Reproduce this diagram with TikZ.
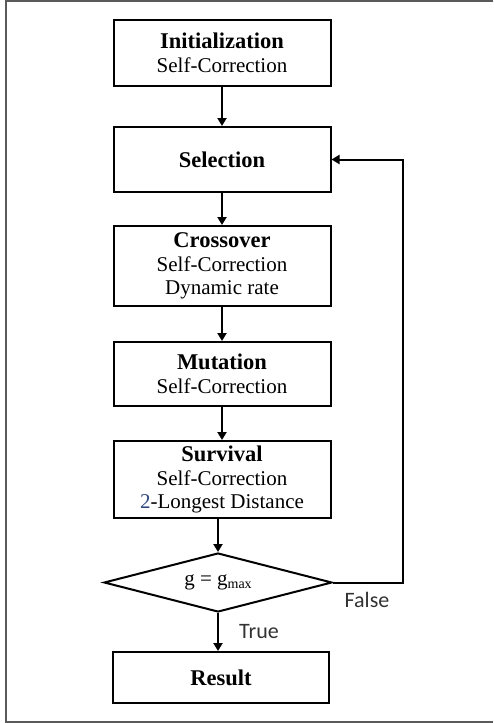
\documentclass[tikz,border=0pt]{standalone}
\usepackage{fontspec}
\setmainfont{Liberation Serif}
\newfontfamily\labelfont{Carlito}
\usetikzlibrary{arrows.meta,shapes.geometric}
\definecolor{numblue}{RGB}{47,72,125}
\definecolor{framegray}{RGB}{90,90,90}
\definecolor{labelgray}{RGB}{50,50,50}
\begin{document}
\begin{tikzpicture}[x=1pt,y=-1pt,
  box/.style={draw=black,line width=2pt,rectangle,minimum width=217pt,inner sep=0pt,align=center,font=\fontsize{21}{23.5}\selectfont},
  dec/.style={draw=black,line width=2pt,diamond,aspect=3.86,minimum width=228pt,minimum height=59pt,inner sep=0pt,font=\fontsize{21}{24}\selectfont},
  arr/.style={line width=2pt,-{Triangle[length=8pt,width=9pt]}},
  lbl/.style={font=\labelfont\fontsize{22}{24}\selectfont,text=labelgray,inner sep=0pt},
  frame/.style={draw=framegray,line width=1.6pt}]
\useasboundingbox (0,0) rectangle (493,723);
% outer frame (left, top, bottom)
\draw[frame] (493,1) -- (6,1) -- (6,722) -- (493,722);

\newcommand{\bt}[1]{{\bfseries\fontsize{22.5}{23.5}\selectfont #1}}

\node[box,minimum height=66pt] (init) at (222,53) {\bt{Initialization}\\Self-Correction};
\node[box,minimum height=65pt] (sel) at (222,159.5) {\bt{Selection}};
\node[box,minimum height=80pt] (cross) at (222,266) {\bt{Crossover}\\Self-Correction\\Dynamic rate};
\node[box,minimum height=64pt] (mut) at (222,374) {\bt{Mutation}\\Self-Correction};
\node[box,minimum height=77pt] (surv) at (222,479.5) {\bt{Survival}\\Self-Correction\\\textcolor{numblue}{2}-Longest Distance};
\node[dec] (dec) at (218,582.5) {g = g\raisebox{-3pt}{\fontsize{14}{14}\selectfont max}};
\node[box,minimum height=51pt,minimum width=216pt] (res) at (221,677.5) {\bt{Result}};

\coordinate (fb1) at (403,582.5);
\coordinate (fb2) at (403,159.5);

\draw[arr] (init) -- (sel);
\draw[arr] (sel) -- (cross);
\draw[arr] (cross) -- (mut);
\draw[arr] (mut) -- (surv);
\draw[arr] (surv.south -| dec.north) -- (dec.north);
\draw[arr] (dec.south) -- (dec.south |- res.north);
\draw[arr] (dec.east) -- (fb1) -- (fb2) -- (sel.east);

\node[lbl] (false) at (367,600) {False};
\node[lbl] (true) at (259,632) {True};
\end{tikzpicture}
\end{document}
